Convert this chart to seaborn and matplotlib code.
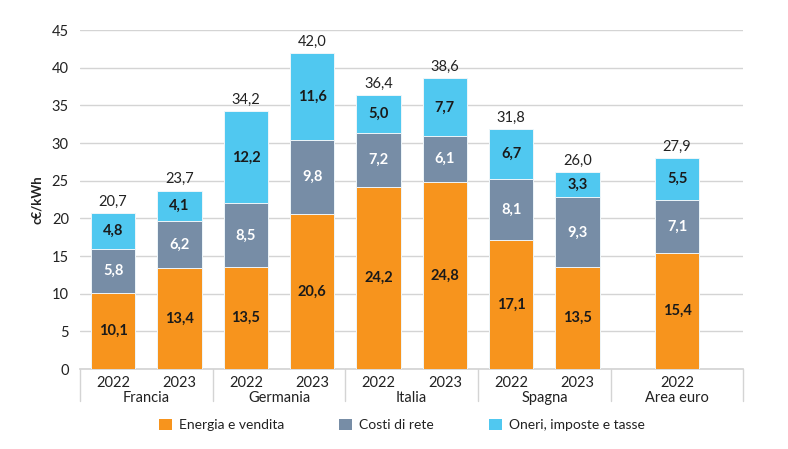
import numpy as np
import pandas as pd
import matplotlib
matplotlib.use("Agg")
import matplotlib.pyplot as plt
import matplotlib.transforms as mtransforms
from matplotlib.patches import Patch
import seaborn as sns

# dati
paesi = ["Francia", "Germania", "Italia", "Spagna", "Area euro"]
anni = ["2022", "2023", "2022", "2023", "2022", "2023", "2022", "2023", "2022"]
posizioni = [0, 1, 2, 3, 4, 5, 6, 7, 8.5]
energia = [10.1, 13.4, 13.5, 20.6, 24.2, 24.8, 17.1, 13.5, 15.4]
rete = [5.8, 6.2, 8.5, 9.8, 7.2, 6.1, 8.1, 9.3, 7.1]
oneri = [4.8, 4.1, 12.2, 11.6, 5.0, 7.7, 6.7, 3.3, 5.5]
totali = [20.7, 23.7, 34.2, 42.0, 36.4, 38.6, 31.8, 26.0, 27.9]
centri_paesi = [0.5, 2.5, 4.5, 6.5, 8.5]
separatori = [-0.5, 1.5, 3.5, 5.5, 7.5, 9.5]

serie = ["Energia e vendita", "Costi di rete", "Oneri, imposte e tasse"]
colori = ["#F7941D", "#778DA6", "#50C8F0"]

sns.set_theme(style="white")
plt.rcParams["font.family"] = ["Lato", "DejaVu Sans"]

df = pd.DataFrame({"pos": posizioni, "energia": energia, "rete": rete, "oneri": oneri})
df["c1"] = df["energia"]
df["c2"] = df["c1"] + df["rete"]
df["c3"] = df["c2"] + df["oneri"]

fig = plt.figure(figsize=(7.88, 4.49), dpi=100)
ax = fig.add_axes([0.1015, 0.178, 0.842, 0.755])

# barre impilate: dalla cima verso il basso
for col, colore in zip(["c3", "c2", "c1"], colori[::-1]):
    sns.barplot(data=df, x="pos", y=col, native_scale=True, color=colore,
                width=0.667, edgecolor="#eef6fa", linewidth=0.7,
                saturation=1, errorbar=None, ax=ax, zorder=3)

ax.set_xlim(-0.5, 9.5)
ax.set_ylim(0, 45)
ax.set_yticks(range(0, 46, 5))
ax.yaxis.grid(True, color="#d4d4d4", linewidth=1)
ax.set_axisbelow(True)
for s in ["top", "right", "left"]:
    ax.spines[s].set_visible(False)
ax.spines["bottom"].set_color("#d4d4d4")
ax.set_xticks(posizioni)
ax.set_xticklabels(anni)
ax.tick_params(axis="both", length=0, labelsize=10.5, colors="#222222")
ax.tick_params(axis="y", pad=8)
ax.tick_params(axis="x", pad=5)
ax.set_xlabel("")
ax.set_ylabel("c€/kWh", fontsize=9.5, fontweight="bold", color="#222222", labelpad=6)

# etichette dei segmenti
for i, p in enumerate(posizioni):
    ax.text(p, energia[i] / 2, f"{energia[i]:.1f}".replace(".", ","), ha="center", va="center",
            fontsize=10.5, fontweight="bold", color="#1a1a1a", zorder=5)
    ax.text(p, energia[i] + rete[i] / 2, f"{rete[i]:.1f}".replace(".", ","), ha="center", va="center",
            fontsize=10.5, fontweight="bold", color="white", zorder=5)
    ax.text(p, energia[i] + rete[i] + oneri[i] / 2, f"{oneri[i]:.1f}".replace(".", ","), ha="center",
            va="center", fontsize=10.5, fontweight="bold", color="#1a1a1a", zorder=5)
    ax.annotate(f"{totali[i]:.1f}".replace(".", ","), (p, energia[i] + rete[i] + oneri[i]),
                xytext=(0, 3), textcoords="offset points", ha="center", va="bottom",
                fontsize=10.5, color="#222222")

# nomi dei paesi e separatori
trans = mtransforms.blended_transform_factory(ax.transData, ax.transAxes)
for c, nome in zip(centri_paesi, paesi):
    ax.text(c, -0.085, nome, transform=trans, ha="center", va="center", fontsize=10.5, color="#222222")
for s in separatori:
    ax.plot([s, s], [0, -0.095], transform=trans, color="#d4d4d4", linewidth=1, clip_on=False)

handles = [Patch(facecolor=c, edgecolor="none") for c in colori]
fig.legend(handles, serie, loc="center", bbox_to_anchor=(0.51, 1 - 425 / 449), ncol=3,
           frameon=False, fontsize=10, handlelength=0.9, handleheight=0.9,
           handletextpad=0.5, columnspacing=4.0, labelcolor="#222222")

fig.savefig("out.png", dpi=100)
